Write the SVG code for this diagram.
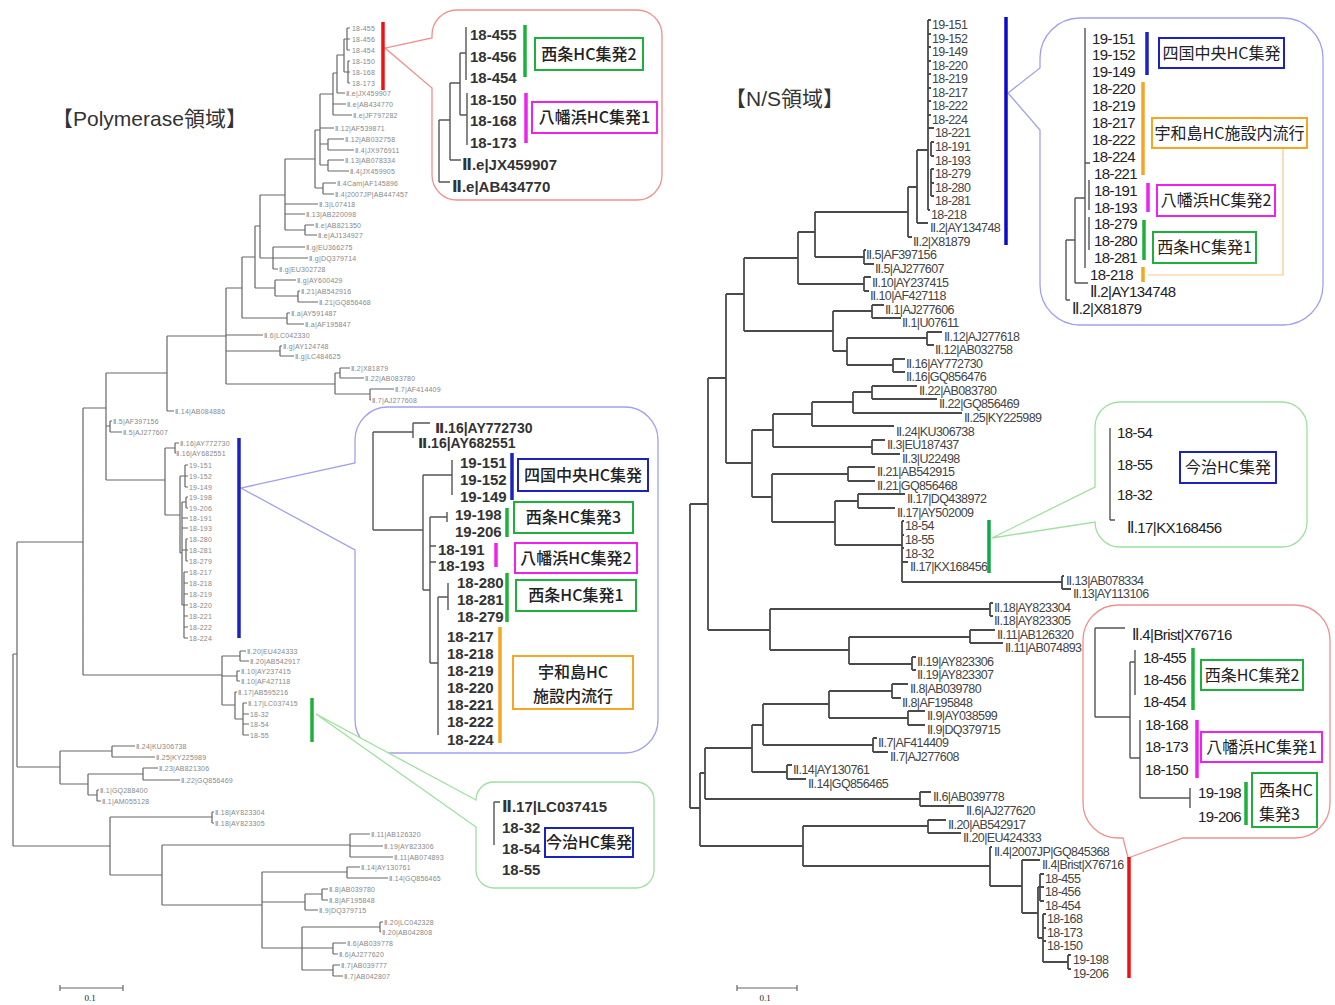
<svg xmlns="http://www.w3.org/2000/svg" width="1335" height="1005" viewBox="0 0 1335 1005">
<style>
.br{stroke:#666;stroke-width:1.2;fill:none}
.rbr{stroke:#4a4a4a;stroke-width:1.8;fill:none}
.cbr{stroke:#555;stroke-width:1.4;fill:none}
.tl{font-family:'Liberation Sans','DejaVu Sans',sans-serif;font-size:7px;letter-spacing:0.2px;fill:#888}
.rl{font-family:'Liberation Sans','DejaVu Sans',sans-serif;font-size:12.5px;letter-spacing:-0.6px;fill:#444}
.cl{font-family:'Liberation Sans','DejaVu Sans',sans-serif;font-size:15px;font-weight:bold;fill:#333}
.cr{font-family:'Liberation Sans','DejaVu Sans',sans-serif;font-size:15px;letter-spacing:-0.6px;fill:#222}
.bx{font-family:'Noto Sans CJK JP',sans-serif;font-size:16px;fill:#222;text-anchor:middle}
.bxl{font-weight:500}
.bxs{font-family:'Noto Sans CJK JP',sans-serif;font-size:16px;fill:#222}
.ttl{font-family:'Liberation Sans','Noto Sans CJK JP',sans-serif;font-size:21px;fill:#333}
.sc{font-family:'Liberation Serif',serif;font-size:9px;fill:#222;text-anchor:middle}
.bar{fill:none;stroke-width:3.5}
.box{fill:#fff;stroke-width:2}
.co{fill:#fff;stroke-width:1.3}
.red{stroke:#ee1111}.blu{stroke:#1c22c0}.grn{stroke:#1db03a}.mag{stroke:#ee22ee}.org{stroke:#f5a623}
</style>
<rect width="1335" height="1005" fill="#fff"/>

<!-- ================= LEFT: Polymerase ================= -->
<g id="left-title"><text class="ttl" x="52" y="126">【Polymerase領域】</text></g>

<g id="left-connectors">
<path class="br" d="M347 28V50M347 28H350M347 39H350M347 50H350M348 61V83M348 61H350M348 72H350M348 83H350M344 39V72M344 39H347M344 72H348M337 55V93M337 55H344M337 93H345M333 73V115M333 73H337M333 104H346M333 115H352M328 139V150M328 139H344M328 150H354M328 160V171M328 160H344M328 171H349M320 94V165M320 94H333M320 128H334M320 144H328M320 165H328M323 183V194M323 183H336M323 194H334M315 130V188M315 130H320M315 188H323M305 225V235M305 225H314M305 235H317M285 159V230M285 159H315M285 204H318M285 214H305M285 230H305M273 247V269M273 247H305M273 258H308M273 269H278M260 195V258M260 195H285M260 258H273M298 291V302M298 291H300M298 302H318M275 280V296M275 280H296M275 296H298M255 226V288M255 226H260M255 288H275M287 313V324M287 313H290M287 324H304M242 257V318M242 257H255M242 318H287M280 346V356M280 346H282M280 356H294M340 368V378M340 368H350M340 378H364M370 389V400M370 389H394M370 400H371M335 373V394M335 373H340M335 394H370M226 288V384M226 288H242M226 335H263M226 351H280M226 384H335M167 336V411M167 336H226M167 411H174M110 421V432M110 421H112M110 432H122M175 443V453M175 443H179M175 453H176M185 465V487M185 465H188M185 476H188M185 487H188M186 497V508M186 497H188M186 508H188M186 539V561M186 539H188M186 550H188M186 561H188M184 572V638M184 572H188M184 583H188M184 594H188M184 605H188M184 616H188M184 627H188M184 638H188M182 502V605M182 502H186M182 518H188M182 528H188M182 550H186M182 605H184M180 476V553M180 476H185M180 553H182M165 448V515M165 448H175M165 515H180M106 373V480M106 373H167M106 426H110M106 480H165M240 651V661M240 651H246M240 661H249M237 671V681M237 671H240M237 681H240M243 703V735M243 703H247M243 714H249M243 724H249M243 735H249M235 692V719M235 692H237M235 719H243M222 656V705M222 656H240M222 676H237M222 705H235M83 408V675M83 408H106M83 675H222M112 746V757M112 746H135M112 757H155M143 768V780M143 768H158M143 780H180M97 790V801M97 790H99M97 801H101M88 774V795M88 774H143M88 795H97M60 751V784M60 751H112M60 784H88M17 542V767M17 542H83M17 767H60M212 812V823M212 812H214M212 823H214M350 834V857M350 834H370M350 846H383M350 857H393M347 867V878M347 867H360M347 878H388M322 889V900M322 889H328M322 900H328M305 894V910M305 894H322M305 910H318M380 922V932M380 922H383M380 932H381M333 943V954M333 943H346M333 954H338M333 965V976M333 965H340M333 976H343M302 927V970M302 927H380M302 948H333M302 970H333M262 872V948M262 872H347M262 902H305M262 948H302M162 845V905M162 845H350M162 905H262M110 817V875M110 817H212M110 875H162M13 654V846M13 654H17M13 846H110"/>
</g>

<g id="left-labels">
<text class="tl" x="352" y="30.5">18-455</text><text class="tl" x="352" y="41.5">18-456</text><text class="tl" x="352" y="52.5">18-454</text><text class="tl" x="352" y="63.5">18-150</text><text class="tl" x="352" y="74.5">18-168</text><text class="tl" x="352" y="85.5">18-173</text>
<text class="tl" x="346" y="95.5">Ⅱ.e|JX459907</text><text class="tl" x="347" y="106.5">Ⅱ.e|AB434770</text><text class="tl" x="353" y="117.5">Ⅱ.e|JF797282</text>
<text class="tl" x="335" y="130.5">Ⅱ.12|AF539871</text><text class="tl" x="345" y="141.5">Ⅱ.12|AB032758</text><text class="tl" x="355" y="152.5">Ⅱ.4|JX976911</text><text class="tl" x="345" y="162.5">Ⅱ.13|AB078334</text><text class="tl" x="350" y="173.5">Ⅱ.4|JX459905</text>
<text class="tl" x="337" y="185.5">Ⅱ.4Cam|AF145896</text><text class="tl" x="335" y="196.5">Ⅱ.4|2007JP|AB447457</text>
<text class="tl" x="319" y="206.5">Ⅱ.3|L07418</text><text class="tl" x="306" y="216.5">Ⅱ.13|AB220098</text><text class="tl" x="315" y="227.5">Ⅱ.e|AB821350</text><text class="tl" x="318" y="237.5">Ⅱ.e|AJ134927</text>
<text class="tl" x="306" y="249.5">Ⅱ.g|EU366275</text><text class="tl" x="309" y="260.5">Ⅱ.g|DQ379714</text><text class="tl" x="279" y="271.5">Ⅱ.g|EU302728</text>
<text class="tl" x="297" y="282.5">Ⅱ.g|AY600429</text><text class="tl" x="301" y="293.5">Ⅱ.21|AB542916</text><text class="tl" x="319" y="304.5">Ⅱ.21|GQ856468</text>
<text class="tl" x="291" y="315.5">Ⅱ.a|AY591487</text><text class="tl" x="305" y="326.5">Ⅱ.a|AF195847</text>
<text class="tl" x="264" y="337.5">Ⅱ.6|LC042330</text><text class="tl" x="283" y="348.5">Ⅱ.g|AY124748</text><text class="tl" x="295" y="358.5">Ⅱ.g|LC484625</text>
<text class="tl" x="351" y="370.5">Ⅱ.2|X81879</text><text class="tl" x="365" y="380.5">Ⅱ.22|AB083780</text><text class="tl" x="395" y="391.5">Ⅱ.7|AF414409</text><text class="tl" x="372" y="402.5">Ⅱ.7|AJ277608</text>
<text class="tl" x="175" y="413.5">Ⅱ.14|AB084886</text>
<text class="tl" x="113" y="423.5">Ⅱ.5|AF397156</text><text class="tl" x="123" y="434.5">Ⅱ.5|AJ277607</text>
<text class="tl" x="180" y="445.5">Ⅱ.16|AY772730</text><text class="tl" x="176" y="455.5">Ⅱ.16|AY682551</text>
<text class="tl" x="189" y="467.5">19-151</text><text class="tl" x="189" y="478.5">19-152</text><text class="tl" x="189" y="489.5">19-149</text><text class="tl" x="189" y="499.5">19-198</text><text class="tl" x="189" y="510.5">19-206</text><text class="tl" x="189" y="520.5">18-191</text><text class="tl" x="189" y="530.5">18-193</text><text class="tl" x="189" y="541.5">18-280</text><text class="tl" x="189" y="552.5">18-281</text><text class="tl" x="189" y="563.5">18-279</text><text class="tl" x="189" y="574.5">18-217</text><text class="tl" x="189" y="585.5">18-218</text><text class="tl" x="189" y="596.5">18-219</text><text class="tl" x="189" y="607.5">18-220</text><text class="tl" x="189" y="618.5">18-221</text><text class="tl" x="189" y="629.5">18-222</text><text class="tl" x="189" y="640.5">18-224</text>
<text class="tl" x="247" y="653.5">Ⅱ.20|EU424333</text><text class="tl" x="250" y="663.5">Ⅱ.20|AB542917</text><text class="tl" x="241" y="673.5">Ⅱ.10|AY237415</text><text class="tl" x="241" y="683.5">Ⅱ.10|AF427118</text>
<text class="tl" x="238" y="694.5">Ⅱ.17|AB595216</text><text class="tl" x="248" y="705.5">Ⅱ.17|LC037415</text><text class="tl" x="250" y="716.5">18-32</text><text class="tl" x="250" y="726.5">18-54</text><text class="tl" x="250" y="737.5">18-55</text>
<text class="tl" x="136" y="748.5">Ⅱ.24|KU306738</text><text class="tl" x="156" y="759.5">Ⅱ.25|KY225989</text><text class="tl" x="159" y="770.5">Ⅱ.23|AB821306</text><text class="tl" x="181" y="782.5">Ⅱ.22|GQ856469</text><text class="tl" x="100" y="792.5">Ⅱ.1|GQ288400</text><text class="tl" x="102" y="803.5">Ⅱ.1|AM055128</text>
<text class="tl" x="215" y="814.5">Ⅱ.18|AY823304</text><text class="tl" x="215" y="825.5">Ⅱ.18|AY823305</text>
<text class="tl" x="371" y="836.5">Ⅱ.11|AB126320</text><text class="tl" x="384" y="848.5">Ⅱ.19|AY823306</text><text class="tl" x="394" y="859.5">Ⅱ.11|AB074893</text>
<text class="tl" x="361" y="869.5">Ⅱ.14|AY130761</text><text class="tl" x="389" y="880.5">Ⅱ.14|GQ856465</text>
<text class="tl" x="329" y="891.5">Ⅱ.8|AB039780</text><text class="tl" x="329" y="902.5">Ⅱ.8|AF195848</text><text class="tl" x="319" y="912.5">Ⅱ.9|DQ379715</text>
<text class="tl" x="384" y="924.5">Ⅱ.20|LC042328</text><text class="tl" x="382" y="934.5">Ⅱ.20|AB042808</text>
<text class="tl" x="347" y="945.5">Ⅱ.6|AB039778</text><text class="tl" x="339" y="956.5">Ⅱ.6|AJ277620</text><text class="tl" x="341" y="967.5">Ⅱ.7|AB039777</text><text class="tl" x="344" y="978.5">Ⅱ.7|AB042807</text>
</g>

<g id="left-scale">
<path class="br" d="M60 988H123M60 985V991M123 985V991" stroke="#444"/>
<text class="sc" x="90" y="1001">0.1</text>
</g>

<!-- left top callout (red) -->
<g id="left-callout-red">
<path class="co" stroke="#f29090" d="M432 35A25 25 0 0 1 457 10H637A25 25 0 0 1 662 35V175A25 25 0 0 1 637 200H457A25 25 0 0 1 432 175V88L385 48L432 38Z"/>
<path class="bar red" d="M383 22V90"/>
<path class="cbr" stroke="#777" d="M466 27V80M467 93V145M460 53V115M460 53H466M460 115H467M450 83V160M450 83H460M450 160H461M439 120V182M439 120H450M439 182H450"/>
<text class="cl" x="470" y="40">18-455</text><text class="cl" x="470" y="62">18-456</text><text class="cl" x="470" y="83">18-454</text><text class="cl" x="470" y="105">18-150</text><text class="cl" x="470" y="126">18-168</text><text class="cl" x="470" y="148">18-173</text>
<text class="cl" x="462" y="170">Ⅱ.e|JX459907</text><text class="cl" x="452" y="192">Ⅱ.e|AB434770</text>
<path class="bar grn" d="M525 25V77"/><path class="bar mag" d="M526 93V143"/>
<g id="lbox-saijo2"><rect class="box grn" x="535" y="38" width="108" height="32"/><text class="bx bxl" x="589" y="60">西条HC集発2</text></g>
<g id="lbox-yawatahama1"><rect class="box mag" x="532" y="102" width="125" height="31"/><text class="bx bxl" x="594.5" y="123">八幡浜HC集発1</text></g>
</g>

<!-- left middle callout (blue) -->
<g id="left-callout-blue">
<path class="co" stroke="#a0a0ee" d="M355 440A33 33 0 0 1 388 407H625A33 33 0 0 1 658 440V720A33 33 0 0 1 625 753H388A33 33 0 0 1 355 720V550L241 488L355 463Z"/>
<path class="bar blu" d="M239 438V638"/>
<path class="cbr" stroke="#777" d="M413 423V438M413 423H430M373 432V530M373 432H413M373 530H423M423 475V590M423 475H452M423 590H430M452 460V495M430 517V663M430 517H447M430 546H436M430 562H436M430 663H438M447 512V522M438 597V735M438 597H448M448 583V610"/>
<text class="cl" x="435" y="433" style="font-size:14px">Ⅱ.16|AY772730</text><text class="cl" x="418" y="448" style="font-size:14px">Ⅱ.16|AY682551</text>
<text class="cl" x="460" y="468">19-151</text><text class="cl" x="460" y="485">19-152</text><text class="cl" x="460" y="502">19-149</text>
<text class="cl" x="455" y="520">19-198</text><text class="cl" x="455" y="537">19-206</text>
<text class="cl" x="438" y="555">18-191</text><text class="cl" x="438" y="571">18-193</text>
<text class="cl" x="457" y="588">18-280</text><text class="cl" x="457" y="605">18-281</text><text class="cl" x="457" y="622">18-279</text>
<text class="cl" x="447" y="642">18-217</text><text class="cl" x="447" y="659">18-218</text><text class="cl" x="447" y="676">18-219</text><text class="cl" x="447" y="693">18-220</text><text class="cl" x="447" y="710">18-221</text><text class="cl" x="447" y="727">18-222</text><text class="cl" x="447" y="745">18-224</text>
<path class="bar blu" d="M512 453V500"/><path class="bar grn" d="M507 508V537"/><path class="bar mag" d="M496 543V567"/><path class="bar grn" d="M507 573V622"/><path class="bar org" d="M500 627V743"/>
<g id="lbox-shikoku"><rect class="box blu" x="518" y="459" width="130" height="32"/><text class="bx bxl" x="583" y="481">四国中央HC集発</text></g>
<g id="lbox-saijo3"><rect class="box grn" x="514" y="502" width="119" height="31"/><text class="bx bxl" x="573.5" y="523">西条HC集発3</text></g>
<g id="lbox-yawatahama2"><rect class="box mag" x="515" y="543" width="122" height="30"/><text class="bx bxl" x="576" y="564">八幡浜HC集発2</text></g>
<g id="lbox-saijo1"><rect class="box grn" x="516" y="580" width="120" height="31"/><text class="bx bxl" x="576" y="601">西条HC集発1</text></g>
<g id="lbox-uwajima"><rect class="box org" x="513" y="656" width="120" height="53"/><text class="bx bxl" x="573" y="678">宇和島HC</text><text class="bx bxl" x="573" y="702">施設内流行</text></g>
</g>

<!-- left bottom callout (green) -->
<g id="left-callout-green">
<path class="co" stroke="#9ee09e" d="M476 800A18 18 0 0 1 494 782H636A18 18 0 0 1 654 800V870A18 18 0 0 1 636 888H494A18 18 0 0 1 476 870V827L316 714Z"/>
<path class="bar grn" d="M312 698V742" stroke="#1aa050"/>
<path class="cbr" stroke="#777" d="M494 802V845M494 802H500"/>
<text class="cl" x="502" y="812">Ⅱ.17|LC037415</text><text class="cl" x="502" y="833">18-32</text><text class="cl" x="502" y="854">18-54</text><text class="cl" x="502" y="875">18-55</text>
<g id="lbox-imabari"><rect class="box blu" x="545" y="828" width="88" height="29"/><text class="bx bxl" x="589" y="848">今治HC集発</text></g>
</g>

<!-- ================= RIGHT: N/S ================= -->
<g id="right-title"><text class="ttl" x="725" y="106">【N/S領域】</text></g>

<g id="right-connectors">
<path class="rbr" d="M928 20V210M928 20H931M928 34H931M928 47H931M928 61H931M928 74H931M928 88H931M928 101H931M928 115H931M928 128H934M928 210H930M931 142V156M931 142H934M931 156H934M931 169V196M931 169H934M931 183H934M931 196H934M917 150V223M917 150H928M917 223H928M908 187V237M908 187H917M908 237H912M864 250V264M864 250H866M864 264H874M815 212V257M815 212H908M815 257H864M864 277V291M864 277H871M864 291H869M798 232V284M798 232H815M798 284H864M872 305V318M872 305H884M872 318H901M927 332V345M927 332H942M927 345H934M893 359V372M893 359H905M893 372H905M847 338V365M847 338H927M847 365H893M833 311V351M833 311H872M833 351H847M744 258V331M744 258H798M744 331H833M872 386V399M872 386H917M872 399H937M853 392V413M853 392H872M853 413H962M812 402V426M812 402H853M812 426H894M872 440V454M872 440H885M872 454H900M773 414V447M773 414H812M773 447H872M848 467V481M848 467H875M848 481H875M858 494V508M858 494H905M858 508H895M902 521V582M902 521H904M902 535H904M902 548H904M902 562H908M1062 576V589M1062 576H1064M1062 589H1071M902 582H1062M835 501V545M835 501H858M835 545H902M772 474V522M772 474H848M772 522H835M752 430V497M752 430H773M752 497H772M726 294V463M726 294H744M726 463H752M990 603V616M990 603H993M990 616H993M970 630V643M970 630H995M970 643H1003M912 657V670M912 657H916M912 670H916M849 637V664M849 637H970M849 664H912M770 609V650M770 609H990M770 650H849M708 378V630M708 378H726M708 630H770M892 684V698M892 684H908M892 698H901M908 711V725M908 711H925M908 725H925M829 691V718M829 691H892M829 718H908M873 738V752M873 738H877M873 752H888M763 704V745M763 704H829M763 745H873M787 765V779M787 765H792M787 779H806M752 725V772M752 725H763M752 772H787M920 792V806M920 792H931M920 806H964M705 748V799M705 748H752M705 799H920M928 820V833M928 820H946M928 833H961M1040 874V901M1040 874H1044M1040 887H1044M1040 901H1044M1043 914V962M1043 914H1046M1043 928H1046M1043 941H1046M1043 962H1068M1068 955V969M1068 955H1071M1068 969H1071M1038 887V938M1038 887H1040M1038 938H1043M1022 860V913M1022 860H1040M1022 913H1038M990 847V886M990 847H992M990 886H1022M803 826V866M803 826H928M803 866H990M700 773V846M700 773H705M700 846H803M690 504V808M690 504H708M690 808H700"/>
</g>

<g id="right-labels">
<text class="rl" x="932" y="29">19-151</text><text class="rl" x="932" y="42.6">19-152</text><text class="rl" x="932" y="56.1">19-149</text><text class="rl" x="932" y="69.7">18-220</text><text class="rl" x="932" y="83.2">18-219</text><text class="rl" x="932" y="96.8">18-217</text><text class="rl" x="932" y="110.3">18-222</text><text class="rl" x="932" y="123.9">18-224</text>
<text class="rl" x="935" y="137.4">18-221</text><text class="rl" x="935" y="151">18-191</text><text class="rl" x="935" y="164.5">18-193</text><text class="rl" x="935" y="178.1">18-279</text><text class="rl" x="935" y="191.6">18-280</text><text class="rl" x="935" y="205.2">18-281</text>
<text class="rl" x="931" y="218.7">18-218</text><text class="rl" x="930" y="232.3">Ⅱ.2|AY134748</text><text class="rl" x="913" y="245.8">Ⅱ.2|X81879</text>
<text class="rl" x="866" y="259.4">Ⅱ.5|AF397156</text><text class="rl" x="875" y="272.9">Ⅱ.5|AJ277607</text>
<text class="rl" x="872" y="286.5">Ⅱ.10|AY237415</text><text class="rl" x="870" y="300">Ⅱ.10|AF427118</text>
<text class="rl" x="885" y="313.6">Ⅱ.1|AJ277606</text><text class="rl" x="902" y="327.1">Ⅱ.1|U07611</text>
<text class="rl" x="944" y="340.7">Ⅱ.12|AJ277618</text><text class="rl" x="935" y="354.2">Ⅱ.12|AB032758</text>
<text class="rl" x="906" y="367.8">Ⅱ.16|AY772730</text><text class="rl" x="906" y="381.3">Ⅱ.16|GQ856476</text>
<text class="rl" x="919" y="394.9">Ⅱ.22|AB083780</text><text class="rl" x="939" y="408.4">Ⅱ.22|GQ856469</text>
<text class="rl" x="964" y="422">Ⅱ.25|KY225989</text><text class="rl" x="896" y="435.5">Ⅱ.24|KU306738</text>
<text class="rl" x="887" y="449.1">Ⅱ.3|EU187437</text><text class="rl" x="902" y="462.6">Ⅱ.3|U22498</text>
<text class="rl" x="877" y="476.2">Ⅱ.21|AB542915</text><text class="rl" x="877" y="489.7">Ⅱ.21|GQ856468</text>
<text class="rl" x="907" y="503.3">Ⅱ.17|DQ438972</text><text class="rl" x="897" y="516.8">Ⅱ.17|AY502009</text>
<text class="rl" x="905" y="530.4">18-54</text><text class="rl" x="905" y="543.9">18-55</text><text class="rl" x="905" y="557.5">18-32</text><text class="rl" x="910" y="571">Ⅱ.17|KX168456</text>
<text class="rl" x="1066" y="584.6">Ⅱ.13|AB078334</text><text class="rl" x="1073" y="598.1">Ⅱ.13|AY113106</text>
<text class="rl" x="994" y="611.7">Ⅱ.18|AY823304</text><text class="rl" x="994" y="625.2">Ⅱ.18|AY823305</text>
<text class="rl" x="997" y="638.8">Ⅱ.11|AB126320</text><text class="rl" x="1005" y="652.3">Ⅱ.11|AB074893</text>
<text class="rl" x="917" y="665.9">Ⅱ.19|AY823306</text><text class="rl" x="917" y="679.4">Ⅱ.19|AY823307</text>
<text class="rl" x="910" y="693">Ⅱ.8|AB039780</text><text class="rl" x="902" y="706.5">Ⅱ.8|AF195848</text>
<text class="rl" x="927" y="720.1">Ⅱ.9|AY038599</text><text class="rl" x="927" y="733.6">Ⅱ.9|DQ379715</text>
<text class="rl" x="878" y="747.2">Ⅱ.7|AF414409</text><text class="rl" x="890" y="760.7">Ⅱ.7|AJ277608</text>
<text class="rl" x="793" y="774.3">Ⅱ.14|AY130761</text><text class="rl" x="808" y="787.8">Ⅱ.14|GQ856465</text>
<text class="rl" x="933" y="801.4">Ⅱ.6|AB039778</text><text class="rl" x="966" y="814.9">Ⅱ.6|AJ277620</text>
<text class="rl" x="948" y="828.5">Ⅱ.20|AB542917</text><text class="rl" x="963" y="842">Ⅱ.20|EU424333</text>
<text class="rl" x="994" y="855.6">Ⅱ.4|2007JP|GQ845368</text><text class="rl" x="1042" y="869.1">Ⅱ.4|Brist|X76716</text>
<text class="rl" x="1045" y="882.7">18-455</text><text class="rl" x="1045" y="896.2">18-456</text><text class="rl" x="1045" y="909.8">18-454</text>
<text class="rl" x="1047" y="923.3">18-168</text><text class="rl" x="1047" y="936.9">18-173</text><text class="rl" x="1047" y="950.4">18-150</text>
<text class="rl" x="1073" y="964">19-198</text><text class="rl" x="1073" y="977.5">19-206</text>
</g>

<g id="right-scale">
<path class="br" d="M737 988H797M737 985V991M797 985V991" stroke="#444"/>
<text class="sc" x="765" y="1001">0.1</text>
</g>

<!-- right top callout (blue) -->
<g id="right-callout-blue">
<path class="co" stroke="#a0a0f0" d="M1040 58A40 40 0 0 1 1080 18H1283A40 40 0 0 1 1323 58V285A40 40 0 0 1 1283 325H1080A40 40 0 0 1 1040 285V130L1008 93L1040 68Z"/>
<path class="bar" stroke="#0a0acc" d="M1006 17V245"/>
<path class="cbr" stroke="#333" d="M1085 28V268M1085 163H1090M1089 180V210M1089 217V250M1075 198V283M1075 198H1085M1075 283H1088M1066 240V300M1066 240H1075M1066 300H1070"/>
<text class="cr" x="1092" y="43.5">19-151</text><text class="cr" x="1092" y="60.4">19-152</text><text class="cr" x="1092" y="77.3">19-149</text><text class="cr" x="1092" y="94.2">18-220</text><text class="cr" x="1092" y="111.1">18-219</text><text class="cr" x="1092" y="128">18-217</text><text class="cr" x="1092" y="144.9">18-222</text><text class="cr" x="1092" y="161.8">18-224</text>
<text class="cr" x="1094" y="178.7">18-221</text><text class="cr" x="1094" y="195.6">18-191</text><text class="cr" x="1094" y="212.5">18-193</text><text class="cr" x="1094" y="229.4">18-279</text><text class="cr" x="1094" y="246.3">18-280</text><text class="cr" x="1094" y="263.2">18-281</text>
<text class="cr" x="1090" y="280.1">18-218</text><text class="cr" x="1090" y="297">Ⅱ.2|AY134748</text><text class="cr" x="1072" y="313.9">Ⅱ.2|X81879</text>
<path class="bar blu" d="M1147 32V75"/><path class="bar org" d="M1143 82V175"/><path class="bar mag" d="M1148 183V212"/><path class="bar grn" d="M1144 220V260"/><path class="bar org" d="M1143 267V282"/>
<path d="M1148 275H1283V148" fill="none" stroke="#f8c888" stroke-width="1.2"/>
<g id="rbox-shikoku"><rect class="box blu" x="1159" y="38" width="125" height="30"/><text class="bx" x="1221.5" y="58.5">四国中央HC集発</text></g>
<g id="rbox-uwajima"><rect class="box org" x="1152" y="118" width="155" height="30"/><text class="bx" x="1229.5" y="138.5">宇和島HC施設内流行</text></g>
<g id="rbox-yawatahama2"><rect class="box mag" x="1157" y="185" width="118" height="31"/><text class="bx" x="1216" y="206">八幡浜HC集発2</text></g>
<g id="rbox-saijo1"><rect class="box grn" x="1153" y="232" width="103" height="31"/><text class="bx" x="1204.5" y="253">西条HC集発1</text></g>
</g>

<!-- right middle callout (green) -->
<g id="right-callout-green">
<path class="co" stroke="#9ee09e" d="M1095 427A25 25 0 0 1 1120 402H1282A25 25 0 0 1 1307 427V522A25 25 0 0 1 1282 547H1120A25 25 0 0 1 1095 522L992 538L1095 487Z"/>
<path class="bar" stroke="#12a848" d="M989 520V573"/>
<path class="cbr" stroke="#333" d="M1110 428V520M1110 520H1115"/>
<text class="cr" x="1117" y="438">18-54</text><text class="cr" x="1117" y="470">18-55</text><text class="cr" x="1117" y="500">18-32</text><text class="cr" x="1127" y="533">Ⅱ.17|KX168456</text>
<g id="rbox-imabari"><rect class="box blu" x="1180" y="452" width="96" height="31"/><text class="bx" x="1228" y="473">今治HC集発</text></g>
</g>

<!-- right bottom callout (red) -->
<g id="right-callout-red">
<path class="co" stroke="#f29090" d="M1083 640A35 35 0 0 1 1118 605H1295A35 35 0 0 1 1330 640V803A35 35 0 0 1 1295 838H1183L1128 858L1123 838H1118A35 35 0 0 1 1083 803Z"/>
<path class="bar red" d="M1129 857V978"/>
<path class="cbr" stroke="#333" d="M1095 628H1125M1095 628V717M1095 717H1130M1130 662V758M1130 662H1135M1135 650V695M1130 758H1140M1140 720V798M1140 798H1190M1190 788V808"/>
<text class="cr" x="1132" y="640">Ⅱ.4|Brist|X76716</text>
<text class="cr" x="1143" y="663">18-455</text><text class="cr" x="1143" y="685">18-456</text><text class="cr" x="1143" y="707">18-454</text>
<text class="cr" x="1145" y="730">18-168</text><text class="cr" x="1145" y="752">18-173</text><text class="cr" x="1145" y="775">18-150</text>
<text class="cr" x="1198" y="798">19-198</text><text class="cr" x="1198" y="822">19-206</text>
<path class="bar grn" d="M1193 648V710"/><path class="bar mag" d="M1197 720V778"/><path class="bar grn" d="M1246 782V825"/>
<g id="rbox-saijo2"><rect class="box grn" x="1201" y="660" width="102" height="30"/><text class="bx" x="1252" y="680.5">西条HC集発2</text></g>
<g id="rbox-yawatahama1"><rect class="box mag" x="1201" y="732" width="121" height="30"/><text class="bx" x="1261.5" y="752.5">八幡浜HC集発1</text></g>
<g id="rbox-saijo3"><rect class="box grn" x="1252" y="773" width="65" height="54"/><text class="bxs" x="1259" y="796">西条HC</text><text class="bxs" x="1259" y="820">集発3</text></g>
</g>
</svg>
